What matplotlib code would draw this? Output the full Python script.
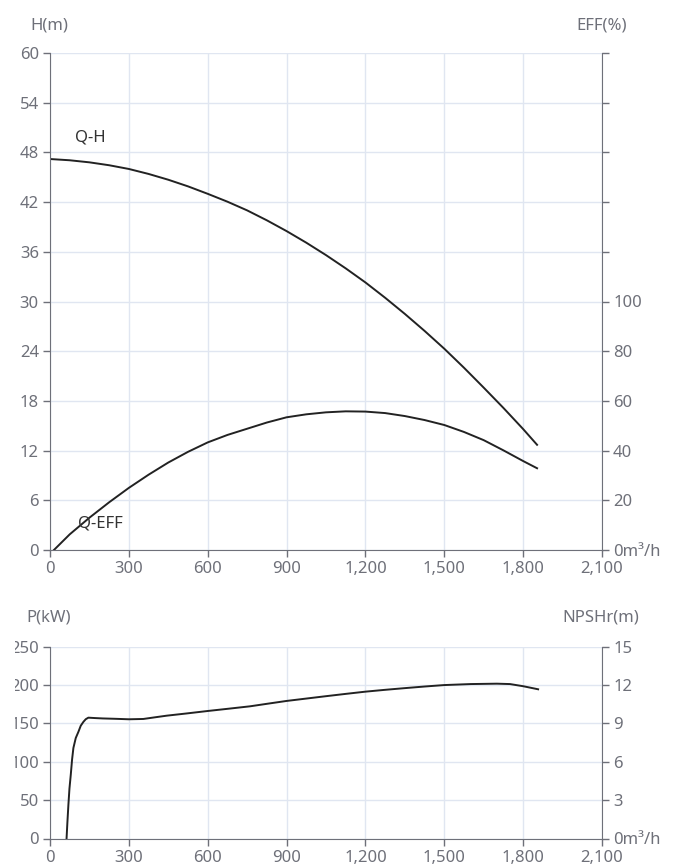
import matplotlib
matplotlib.use("Agg")
import matplotlib.pyplot as plt
from matplotlib.patches import Rectangle

plt.rcParams['font.family'] = ['Noto Sans', 'DejaVu Sans']

# flow (m3/h) and head (m)
q_h = [0, 75, 150, 225, 300, 375, 450, 525, 600, 675, 750, 825, 900, 975, 1050, 1125,
       1200, 1275, 1350, 1425, 1500, 1575, 1650, 1725, 1800, 1853]
head = [47.2, 47.05, 46.8, 46.45, 46.0, 45.4, 44.7, 43.9, 43.0, 42.05, 41.0, 39.8, 38.5,
        37.1, 35.6, 34.0, 32.3, 30.45, 28.5, 26.45, 24.3, 22.0, 19.6, 17.15, 14.6, 12.7]

# efficiency (%)
q_eff = [15, 75, 150, 225, 300, 375, 450, 525, 600, 675, 750, 825, 900, 975, 1050, 1125,
         1200, 1275, 1350, 1425, 1500, 1575, 1650, 1725, 1800, 1853]
eff = [0, 6.3, 13.0, 19.2, 25.0, 30.3, 35.2, 39.5, 43.3, 46.3, 48.8, 51.3, 53.4, 54.6,
       55.4, 55.8, 55.7, 55.1, 53.9, 52.3, 50.3, 47.5, 44.2, 40.1, 35.8, 32.9]

# shaft power (kW)
q_p = [63, 66, 70, 74, 79, 84, 89, 98, 108, 117, 127, 136, 146, 170, 200, 250, 300, 355,
       400, 444, 520, 600, 680, 761, 830, 900, 975, 1050, 1125, 1200, 1275, 1350, 1425,
       1500, 1600, 1700, 1750, 1800, 1857]
power = [0, 20, 44, 65, 83, 103, 118, 131, 139, 147, 152, 155.5, 157.5, 157, 156.5, 156,
         155.4, 155.8, 158, 160.1, 163, 166.2, 169.2, 172.3, 175.8, 179.3, 182.4, 185.5,
         188.5, 191.4, 193.8, 196.0, 198.1, 200.0, 201.3, 201.8, 201.3, 198.5, 194.5]

x_ticks = [0, 300, 600, 900, 1200, 1500, 1800, 2100]
h_ticks = [0, 6, 12, 18, 24, 30, 36, 42, 48, 54, 60]
eff_ticks = [0, 20, 40, 60, 80, 100, 120, 140, 160, 180, 200]
p_ticks = [0, 50, 100, 150, 200, 250]
npsh_ticks = [0, 3, 6, 9, 12, 15]

axis_col = '#6E7079'
grid_col = '#E0E6F1'
line_col = '#222222'
fs = 12

fig = plt.figure(figsize=(6.8, 8.65), dpi=100)


def style(ax):
    ax.tick_params(colors=axis_col, labelcolor=axis_col, labelsize=fs, length=5, width=1, pad=3)
    for s in ax.spines.values():
        s.set_visible(False)


def xlab(v):
    return '{:,}'.format(v)


# ---- top chart: Q-H and Q-EFF
ax1 = fig.add_axes([50 / 680, 1 - 550 / 865, 552 / 680, 497 / 865])
ax1.set_xlim(0, 2100)
ax1.set_ylim(0, 60)
ax1.set_xticks(x_ticks)
ax1.set_xticklabels([xlab(v) for v in x_ticks])
ax1.set_yticks(h_ticks)
ax1.grid(True, color=grid_col, lw=1)
ax1.set_axisbelow(True)
style(ax1)
ax1.spines['left'].set_visible(True)
ax1.spines['bottom'].set_visible(True)
ax1.spines['left'].set_color(axis_col)
ax1.spines['bottom'].set_color(axis_col)
ax1.plot(q_h, head, color=line_col, lw=1.4)

ax1r = ax1.twinx()
ax1r.set_ylim(0, 200)
ax1r.set_yticks(eff_ticks)
ax1r.set_yticklabels(['0m³/h'] + [str(v) if v <= 100 else '' for v in eff_ticks[1:]])
style(ax1r)
ax1r.spines['right'].set_visible(True)
ax1r.spines['right'].set_color(axis_col)
ax1r.plot(q_eff, eff, color=line_col, lw=1.4)

fig.text(49 / 680, 1 - 25 / 865, 'H(m)', ha='center', va='center', fontsize=fs, color=axis_col)
fig.text(602 / 680, 1 - 25 / 865, 'EFF(%)', ha='center', va='center', fontsize=fs, color=axis_col)
fig.text(90 / 680, 1 - 138 / 865, 'Q-H', ha='center', va='center', fontsize=fs, color='#333333')
fig.text(100 / 680, 1 - 523 / 865, 'Q-EFF', ha='center', va='center', fontsize=fs, color='#333333')

# ---- bottom chart: Q-P
ax2 = fig.add_axes([50 / 680, 1 - 838.5 / 865, 552 / 680, 191.8 / 865])
ax2.set_xlim(0, 2100)
ax2.set_ylim(0, 250)
ax2.set_xticks(x_ticks)
ax2.set_xticklabels([xlab(v) for v in x_ticks])
ax2.set_yticks(p_ticks)
ax2.grid(True, color=grid_col, lw=1)
ax2.set_axisbelow(True)
style(ax2)
ax2.spines['left'].set_visible(True)
ax2.spines['bottom'].set_visible(True)
ax2.spines['left'].set_color(axis_col)
ax2.spines['bottom'].set_color(axis_col)
ax2.plot(q_p, power, color=line_col, lw=1.4)

ax2r = ax2.twinx()
ax2r.set_ylim(0, 15)
ax2r.set_yticks(npsh_ticks)
ax2r.set_yticklabels(['0m³/h'] + [str(v) for v in npsh_ticks[1:]])
style(ax2r)
ax2r.spines['right'].set_visible(True)
ax2r.spines['right'].set_color(axis_col)

fig.text(49 / 680, 1 - 617 / 865, 'P(kW)', ha='center', va='center', fontsize=fs, color=axis_col)
fig.text(601 / 680, 1 - 617 / 865, 'NPSHr(m)', ha='center', va='center', fontsize=fs, color=axis_col)

# the source cuts the power labels off at its left edge
fig.patches.append(Rectangle((0, 0), 15 / 680, 235 / 865, transform=fig.transFigure,
                             facecolor='white', edgecolor='none', zorder=10))

fig.savefig('out.png', dpi=100, facecolor='white')
